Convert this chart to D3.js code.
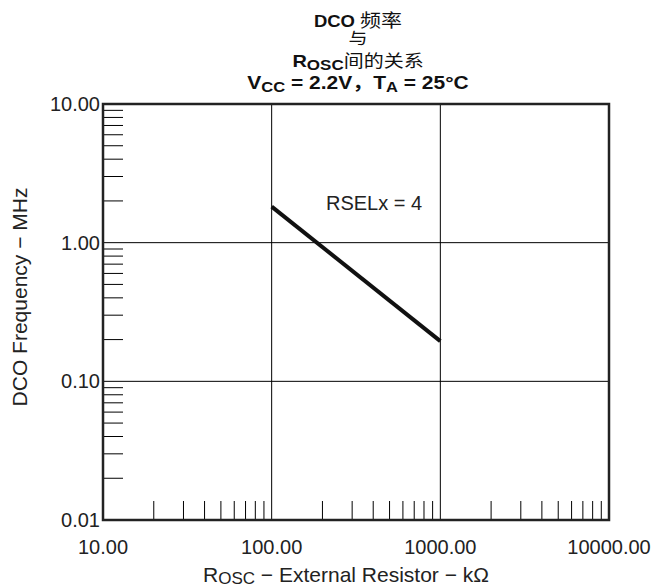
<!DOCTYPE html>
<html><head><meta charset="utf-8">
<script src="https://cdn.jsdelivr.net/npm/d3@7"></script>
<style>body{margin:0;background:#fff}svg{display:block}text{font-family:"Liberation Sans",Arial,"Noto Sans CJK SC",sans-serif}</style>
</head><body>
<svg id="c" width="656" height="588"></svg>
<script>
const resistorK = [100, 1000];
const freqMHz = [1.82, 0.195];
const xTickLabels = ["10.00", "100.00", "1000.00", "10000.00"];
const xTickValues = [10, 100, 1000, 10000];
const yTickLabels = ["0.01", "0.10", "1.00", "10.00"];
const yTickValues = [0.01, 0.1, 1, 10];
const seriesLabel = "RSELx = 4";

const svg = d3.select("#c");
const L = 103, R = 609, T = 104, B = 520;
const x = d3.scaleLog().domain([10, 10000]).range([L, R]);
const y = d3.scaleLog().domain([0.01, 10]).range([B, T]);

// minor ticks
const xMinor = [], yMinor = [];
[10, 100, 1000].forEach(d => { for (let k = 2; k <= 9; k++) xMinor.push(d * k); });
[0.01, 0.1, 1].forEach(d => { for (let k = 2; k <= 9; k++) yMinor.push(d * k); });
svg.append("g").selectAll("line").data(xMinor).join("line")
  .attr("x1", d => x(d)).attr("x2", d => x(d)).attr("y1", B).attr("y2", B - 19)
  .attr("stroke", "#000").attr("stroke-width", 1);
svg.append("g").selectAll("line").data(yMinor).join("line")
  .attr("y1", d => y(d)).attr("y2", d => y(d)).attr("x1", L).attr("x2", L + 20)
  .attr("stroke", "#000").attr("stroke-width", 1);

// grid
svg.append("g").selectAll("line").data([100, 1000]).join("line")
  .attr("x1", d => x(d)).attr("x2", d => x(d)).attr("y1", T).attr("y2", B)
  .attr("stroke", "#000").attr("stroke-width", 1);
svg.append("g").selectAll("line").data([0.1, 1]).join("line")
  .attr("y1", d => y(d)).attr("y2", d => y(d)).attr("x1", L).attr("x2", R)
  .attr("stroke", "#000").attr("stroke-width", 1);

// frame
svg.append("rect").attr("x", L).attr("y", T).attr("width", R - L).attr("height", B - T)
  .attr("fill", "none").attr("stroke", "#222").attr("stroke-width", 2.5);

// tick labels
svg.append("g").selectAll("text").data(xTickValues).join("text")
  .attr("x", d => x(d)).attr("y", 554).attr("text-anchor", "middle")
  .attr("font-size", 20).attr("fill", "#222").text((d, i) => xTickLabels[i]);
svg.append("g").selectAll("text").data(yTickValues).join("text")
  .attr("x", L - 3).attr("y", d => y(d) + 7).attr("text-anchor", "end")
  .attr("font-size", 20).attr("fill", "#222").text((d, i) => yTickLabels[i]);

// line
svg.append("path").datum(resistorK.map((r, i) => [r, freqMHz[i]]))
  .attr("d", d3.line().x(d => x(d[0])).y(d => y(d[1])))
  .attr("fill", "none").attr("stroke", "#111").attr("stroke-width", 4);
svg.append("text").attr("x", 326).attr("y", 210).attr("font-size", 20).attr("fill", "#222").text(seriesLabel);

// axis titles
const xt = svg.append("text").attr("x", 346).attr("y", 582).attr("text-anchor", "middle")
  .attr("font-size", 21).attr("fill", "#222");
xt.append("tspan").text("R");
xt.append("tspan").attr("font-size", 17).attr("dy", 2).text("OSC");
xt.append("tspan").attr("dy", -2).text(" − External Resistor − kΩ");
svg.append("text").attr("transform", "translate(27,297) rotate(-90)").attr("text-anchor", "middle")
  .attr("font-size", 21).attr("fill", "#222").text("DCO Frequency − MHz");

// title (slightly compressed vertically as in the reference)
const TX = 358, SQ = 0.85;
const tg = svg.append("g").attr("font-weight", "bold").attr("fill", "#111").attr("text-anchor", "middle");
const t1 = tg.append("text").attr("transform", `translate(${TX},27) scale(1,${SQ})`).attr("font-size", 18.5);
t1.append("tspan").text("DCO ");
t1.append("tspan").attr("font-weight", "normal").attr("font-size", 21).text("频率");
tg.append("text").attr("transform", `translate(${TX},44) scale(1,${SQ})`).attr("font-size", 19).attr("font-weight", "normal").text("与");
const t3 = tg.append("text").attr("transform", `translate(${TX},67) scale(1,${SQ})`).attr("font-size", 20);
t3.append("tspan").text("R");
t3.append("tspan").attr("font-size", 17).attr("dy", 4).text("OSC");
t3.append("tspan").attr("dy", -4).attr("font-weight", "normal").attr("font-size", 20).text("间的关系");
const t4 = tg.append("text").attr("transform", `translate(${TX},89) scale(1,${SQ})`).attr("font-size", 21);
t4.append("tspan").text("V");
t4.append("tspan").attr("font-size", 16.5).attr("dy", 4).text("CC");
t4.append("tspan").attr("dy", -4).text(" = 2.2V，T");
t4.append("tspan").attr("font-size", 16.5).attr("dy", 4).text("A");
t4.append("tspan").attr("dy", -4).text(" = 25°C");
</script>
</body></html>
